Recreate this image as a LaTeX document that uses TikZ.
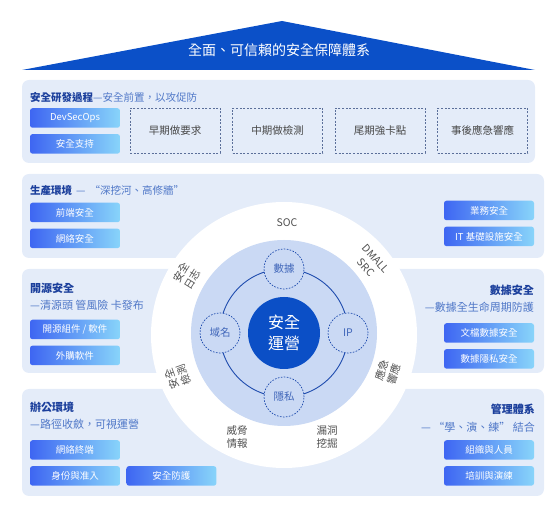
\documentclass[tikz,border=0pt]{standalone}
\usepackage{fontspec}
\setmainfont{Noto Sans CJK TC}
\usepackage{xcolor}
\usetikzlibrary{positioning, calc}
\definecolor{roofblue}{HTML}{0B50C8}
\definecolor{panelbg}{HTML}{E4ECF9}
\definecolor{ttlblue}{HTML}{1B3F9C}
\definecolor{subblue}{HTML}{5078C8}
\definecolor{btnL}{HTML}{3E66F2}
\definecolor{btnR}{HTML}{88D4FA}
\definecolor{discblue}{HTML}{CAD9F4}
\definecolor{ringblue}{HTML}{1F4CAE}
\definecolor{dashgray}{HTML}{5B6F9A}
\definecolor{lblgray}{HTML}{505050}
\definecolor{hubblue}{HTML}{0B4FC6}
\tikzset{
  rooftxt/.style={text=white, font=\fontsize{14}{16}\selectfont, inner sep=0pt},
  panel/.style={fill=panelbg, rounded corners=7pt},
  ttl/.style={font=\fontsize{#1}{13}\selectfont, inner sep=0pt},
  ttl/.default=10.5,
  btn/.style={rectangle, rounded corners=2.5pt, left color=btnL, right color=btnR,
              text=white, font=\fontsize{9.5}{10}\selectfont,
              minimum width=90pt, minimum height=19.5pt, inner sep=0pt},
  dbox/.style={rectangle, draw=dashgray, line width=0.8pt, dash pattern=on 2pt off 1.6pt,
               minimum width=90pt, minimum height=45pt, inner sep=0pt,
               font=\fontsize{10.5}{12}\selectfont, text=black!72},
  lbl/.style={font=\fontsize{10.5}{13}\selectfont, text=lblgray, align=center, inner sep=0pt},
  dot/.style={circle, draw=ringblue, line width=0.7pt, dash pattern=on 1.6pt off 1.4pt,
              fill=discblue, minimum size=40pt, inner sep=0pt,
              font=\fontsize{10.5}{12}\selectfont, text=ringblue!85},
  hub/.style={circle, fill=hubblue, minimum size=72pt, inner sep=0pt, align=center,
              text=white, font=\fontsize{16}{21}\selectfont},
}

\begin{document}
\begin{tikzpicture}[x=1pt, y=-1pt, node distance=6pt and 6pt]
  \useasboundingbox (0,0) rectangle (552,526);
  %% Roof
  \fill[roofblue] (22,70) -- (282,21) -- (535,70) -- cycle;
  \node[rooftxt] (title) at (279,50) {全面、可信賴的安全保障體系};
  %% Panels
  \foreach \ya/\yb/\xb in {80/163/535, 174/258/544, 269/373/544, 389/496/544}
    \fill[panel] (22,\ya) rectangle (\xb,\yb);
  %% Row 1: secure development
  \node[ttl, anchor=west] (dev_t) at (30,97)
    {{\bfseries\color{ttlblue}安全研發過程}\textcolor{subblue}{—安全前置，以攻促防}};
  \node[btn] (devsec) at (75,118) {DevSecOps};
  \node[btn, below=of devsec] (support) {安全支持};
  \foreach \n/\x/\t in {early/175/早期做要求, mid/277.5/中期做檢測, late/380/尾期強卡點, post/482.5/事後應急響應}
    \node[dbox] (\n) at (\x,130.5) {\t};
  %% Big ring
  \node[circle, fill=white, minimum size=266pt, inner sep=0pt] (halo) at (284,335) {};
  \node[circle, fill=discblue, minimum size=186pt, inner sep=0pt] (disc) at (284,333) {};
  \draw[ringblue, line width=0.9pt] (disc.center) circle[radius=64pt];
  \foreach \n/\a/\t in {data/90/數據, ip/0/IP, priv/270/隱私, dom/180/域名}
    \node[dot] (\n) at ($(disc.center)+(\a:64pt)$) {\t};
  \node[hub] (ops) at (disc.center) {安全\\運營};
  %% Ring labels
  \node[lbl] (soc) at (287,223) {SOC};
  \node[lbl, rotate=-48] (src) at (371,263) {DMALL\\SRC};
  \node[lbl, rotate=58] (log) at (187,276) {安全\\日志};
  \node[lbl, rotate=110] (det) at (178,377) {安全\\檢測};
  \node[lbl, rotate=70] (resp) at (388,372) {應急\\響應};
  \node[lbl] (intel) at (237,437) {威脅\\情報};
  \node[lbl] (vuln) at (327,437) {漏洞\\挖掘};
  %% Row 2: production
  \node[ttl, anchor=west] (prod_t) at (30,191)
    {{\bfseries\color{ttlblue}生產環境}\hspace{4pt}\textcolor{subblue}{—\hspace{4pt}“深挖河、高修牆”}};
  \node[btn] (front) at (75,212.5) {前端安全};
  \node[btn, below=of front] (net) {網絡安全};
  \node[btn] (biz) at (489,210.5) {業務安全};
  \node[btn, below=of biz] (itinf) {IT 基礎設施安全};
  %% Row 3: open source / data
  \node[ttl=11, anchor=west, text=ttlblue, font=\bfseries\fontsize{11}{13}\selectfont] (os_t) at (30,288) {開源安全};
  \node[ttl=11, anchor=west, text=subblue] (os_s) at (30,305) {—清源頭 管風險 卡發布};
  \node[btn] (comp) at (75,329.5) {開源組件 / 軟件};
  \node[btn, below=of comp] (buy) {外購軟件};
  \node[ttl=11, anchor=east, text=ttlblue, font=\bfseries\fontsize{11}{13}\selectfont] (dat_t) at (534,290) {數據安全};
  \node[ttl=11, anchor=east, text=subblue] (dat_s) at (534,307) {—數據全生命周期防護};
  \node[btn] (doc) at (489,333) {文檔數據安全};
  \node[btn, below=of doc] (pdata) {數據隱私安全};
  %% Row 4: office / management
  \node[ttl=11, anchor=west, text=ttlblue, font=\bfseries\fontsize{11}{13}\selectfont] (off_t) at (30,407) {辦公環境};
  \node[ttl=11, anchor=west, text=subblue] (off_s) at (30,424) {—路徑收斂，可視運營};
  \node[btn] (term) at (75,450) {網絡終端};
  \node[btn, below=of term] (ident) {身份與准入};
  \node[btn, right=of ident] (guard) {安全防護};
  \node[ttl=11, anchor=east, text=ttlblue, font=\bfseries\fontsize{11}{13}\selectfont] (mgt_t) at (535,409) {管理體系};
  \node[ttl=11, anchor=east, text=subblue] (mgt_s) at (535,427) {— “學、演、練” 結合};
  \node[btn] (org) at (489,450) {組織與人員};
  \node[btn, below=of org] (drill) {培訓與演練};
\end{tikzpicture}
\end{document}
